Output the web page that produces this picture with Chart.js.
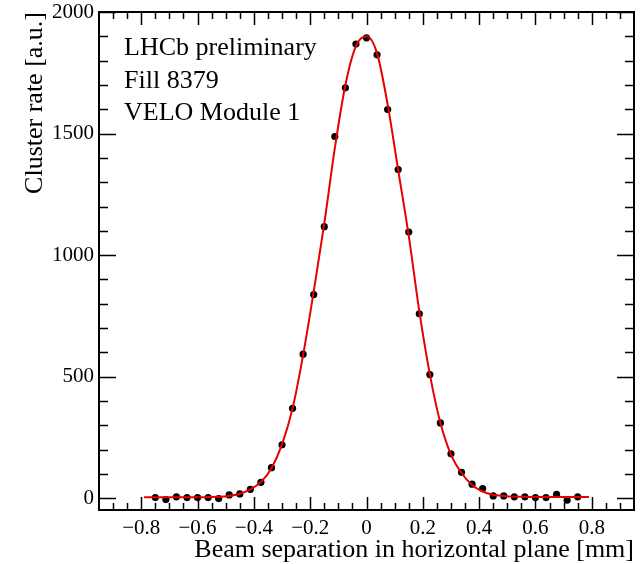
<!DOCTYPE html>
<html>
<head>
<meta charset="utf-8">
<script src="https://cdn.jsdelivr.net/npm/chart.js@4.4.1/dist/chart.umd.min.js"></script>
<style>
  html, body { margin: 0; padding: 0; background: #fff; }
  #wrap { width: 644px; height: 564px; }
</style>
</head>
<body>
<div id="wrap"><canvas id="myChart" width="644" height="564"></canvas></div>
<script>
// measured points: beam separation [mm] vs cluster rate [a.u.]
const separation = [-0.75, -0.7125, -0.675, -0.6375, -0.6, -0.5625, -0.525, -0.4875, -0.45, -0.4125,
  -0.375, -0.3375, -0.3, -0.2625, -0.225, -0.1875, -0.15, -0.1125, -0.075, -0.0375,
  0, 0.0375, 0.075, 0.1125, 0.15, 0.1875, 0.225, 0.2625, 0.3, 0.3375,
  0.375, 0.4125, 0.45, 0.4875, 0.525, 0.5625, 0.6, 0.6375, 0.675, 0.7125, 0.75];
const clusterRate = [3, -5, 6, 3, 3, 3, -1, 14, 18, 37,
  66, 126, 220, 370, 593, 838, 1117, 1488, 1688, 1868,
  1894, 1824, 1599, 1352, 1095, 759, 509, 310, 183, 107,
  58, 40, 10, 10, 6, 6, 3, 3, 16, -8, 6];

// fitted curve
const fitSeparation = [-0.79, -0.75, -0.7125, -0.675, -0.6375, -0.6, -0.5625, -0.525, -0.4875, -0.45, -0.4125,
  -0.375, -0.3375, -0.3, -0.2625, -0.225, -0.1875, -0.15, -0.1125, -0.075, -0.0375,
  0, 0.0375, 0.075, 0.1125, 0.15, 0.1875, 0.225, 0.2625, 0.3, 0.3375,
  0.375, 0.4125, 0.45, 0.4875, 0.525, 0.5625, 0.6, 0.6375, 0.675, 0.7125, 0.75, 0.79];
const fitRate = [4, 4, 4, 4, 4, 4, 5, 6, 10, 19, 37,
  67, 124, 222, 370, 590, 850, 1130, 1440, 1700, 1860,
  1900, 1830, 1620, 1350, 1080, 770, 510, 310, 180, 104,
  55, 28, 15, 10, 7, 6, 5, 5, 5, 5, 5, 5];

const xTickValues = [-0.8, -0.6, -0.4, -0.2, 0, 0.2, 0.4, 0.6, 0.8];
const yTickValues = [0, 500, 1000, 1500, 2000];
const infoLines = ['LHCb preliminary', 'Fill 8379', 'VELO Module 1'];

const serif = 'Liberation Serif';

function fmtX(v) {
  if (Math.abs(v) < 1e-9) return '0';
  return (v < 0 ? '\u2212' : '') + Math.abs(v).toFixed(1);
}

// ROOT-like frame with inward major/minor ticks on all four sides
const frameTicks = {
  id: 'frameTicks',
  afterDatasetsDraw(chart) {
    const { ctx, chartArea: a, scales } = chart;
    const xs = scales.x, ys = scales.y;
    ctx.save();
    ctx.strokeStyle = '#000';
    ctx.lineWidth = 1.5;
    ctx.beginPath();
    for (let k = -18; k <= 18; k++) {
      const px = Math.round(xs.getPixelForValue(k * 0.05)) + 0.5;
      const len = k % 4 === 0 ? 13 : 7;
      ctx.moveTo(px, a.bottom); ctx.lineTo(px, a.bottom - len);
      ctx.moveTo(px, a.top); ctx.lineTo(px, a.top + len);
    }
    for (let k = 0; k <= 20; k++) {
      const py = Math.round(ys.getPixelForValue(k * 100)) + 0.5;
      const len = k % 5 === 0 ? 17 : 9;
      ctx.moveTo(a.left, py); ctx.lineTo(a.left + len, py);
      ctx.moveTo(a.right, py); ctx.lineTo(a.right - len, py);
    }
    ctx.stroke();
    ctx.lineWidth = 2;
    ctx.strokeRect(a.left, a.top, a.right - a.left, a.bottom - a.top);

    ctx.fillStyle = '#000';
    ctx.font = '26px "' + serif + '"';
    ctx.textBaseline = 'alphabetic';
    ctx.textAlign = 'left';
    infoLines.forEach((t, i) => ctx.fillText(t, a.left + 25, a.top + 43 + i * 32.5));
    ctx.restore();
  }
};

new Chart(document.getElementById('myChart').getContext('2d'), {
  type: 'scatter',
  data: {
    datasets: [
      {
        label: 'fit',
        data: fitSeparation.map((x, i) => ({ x: x, y: fitRate[i] })),
        showLine: true,
        borderColor: '#e60000',
        borderWidth: 2,
        pointRadius: 0,
        cubicInterpolationMode: 'monotone',
        order: 0
      },
      {
        label: 'data',
        data: separation.map((x, i) => ({ x: x, y: clusterRate[i] })),
        backgroundColor: '#000',
        borderWidth: 0,
        pointRadius: 3.6,
        order: 1
      }
    ]
  },
  options: {
    responsive: false,
    animation: false,
    layout: { padding: { top: 12, right: 10, left: 0, bottom: 0 } },
    plugins: { legend: { display: false }, tooltip: { enabled: false } },
    scales: {
      x: {
        type: 'linear',
        min: -0.95,
        max: 0.95,
        grid: { display: false, drawTicks: false },
        border: { display: false },
        afterBuildTicks(s) { s.ticks = xTickValues.map(v => ({ value: v })); },
        ticks: {
          autoSkip: false,
          maxRotation: 0,
          padding: 6,
          color: '#000',
          font: { family: serif, size: 21 },
          callback: fmtX
        },
        title: {
          display: true,
          text: 'Beam separation in horizontal plane [mm]',
          align: 'end',
          color: '#000',
          padding: { top: 0, bottom: -2 },
          font: { family: serif, size: 26 }
        },
        afterFit(s) { s.height = 54; s.paddingLeft = 0; s.paddingRight = 0; }
      },
      y: {
        type: 'linear',
        min: -48,
        max: 2000,
        grid: { display: false, drawTicks: false },
        border: { display: false },
        afterBuildTicks(s) { s.ticks = yTickValues.map(v => ({ value: v })); },
        ticks: {
          autoSkip: false,
          padding: 5,
          color: '#000',
          font: { family: serif, size: 21 },
          callback: v => String(v)
        },
        title: {
          display: true,
          text: 'Cluster rate [a.u.]',
          align: 'end',
          color: '#000',
          padding: { top: 20, bottom: 0 },
          font: { family: serif, size: 26 }
        },
        afterFit(s) { s.width = 99; s.paddingTop = 0; s.paddingBottom = 0; }
      }
    }
  },
  plugins: [frameTicks]
});
</script>
</body>
</html>
